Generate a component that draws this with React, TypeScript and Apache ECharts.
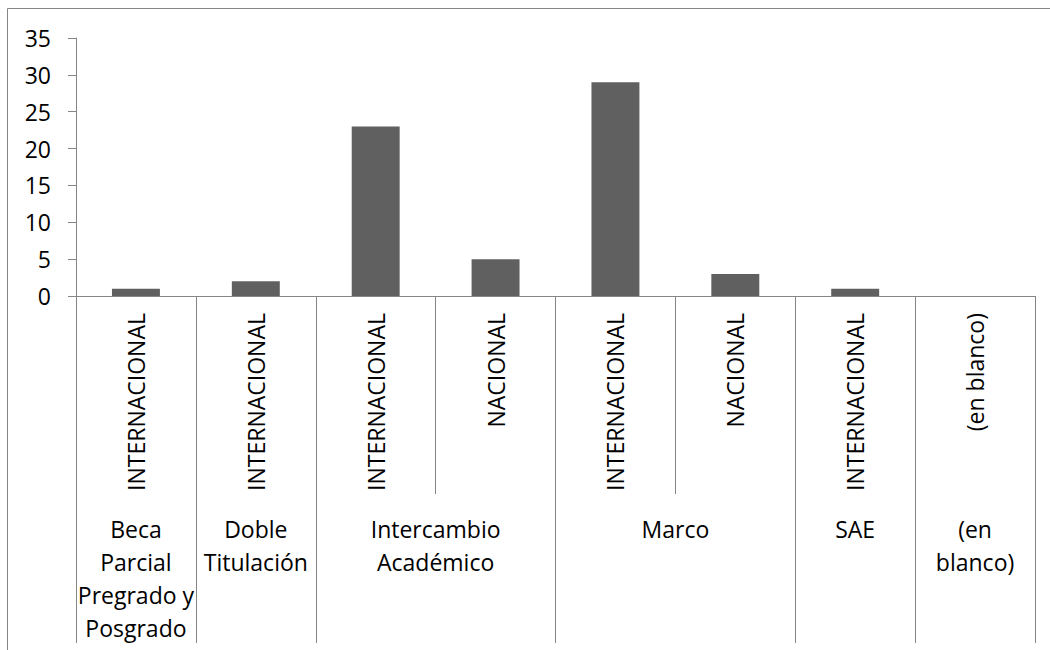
import React, { useEffect, useRef } from "react";
import * as echarts from "echarts";

const categories = [
  "INTERNACIONAL",
  "INTERNACIONAL",
  "INTERNACIONAL",
  "NACIONAL",
  "INTERNACIONAL",
  "NACIONAL",
  "INTERNACIONAL",
  "(en blanco)",
];
const values: (number | null)[] = [1, 2, 23, 5, 29, 3, 1, null];
const groups = [
  "Beca\nParcial\nPregrado y\nPosgrado",
  "Doble\nTitulación",
  "Intercambio\nAcadémico",
  "Marco",
  "SAE",
  "(en\nblanco)",
];
const groupSpans = [1, 1, 2, 2, 1, 1];
const yMin = 0;
const yMax = 35;
const yStep = 5;

export default function App() {
  const ref = useRef<HTMLDivElement>(null);
  useEffect(() => {
    if (!ref.current) return;
    const chart = echarts.init(ref.current, undefined, { renderer: "svg" });

    // half-step positions for the group axis
    const n = categories.length;
    const half: string[] = new Array(2 * n + 1).fill("");
    const boundaryIdx = new Set<number>([0]);
    let start = 0;
    groups.forEach((g, i) => {
      const span = groupSpans[i];
      half[2 * start + span] = g;
      start += span;
      boundaryIdx.add(2 * start);
    });
    const halfData = half.map((_v, i) => String(i));

    const font = "'Open Sans', sans-serif";
    const grey = "#868686";

    chart.setOption({
      animation: false,
      backgroundColor: "#ffffff",
      grid: { left: 76, right: 15, top: 38, bottom: 354, containLabel: false },
      graphic: [
        {
          type: "rect",
          shape: { x: 7.5, y: 8.5, width: 1200, height: 800 },
          style: { fill: "none", stroke: grey, lineWidth: 1 },
          silent: true,
        },
      ],
      xAxis: [
        {
          type: "category",
          data: categories,
          position: "bottom",
          axisLine: { show: true, lineStyle: { color: grey, width: 1 } },
          axisTick: { show: true, length: 198, lineStyle: { color: grey } },
          axisLabel: {
            rotate: 90,
            interval: 0,
            margin: 17,
            color: "#000",
            fontFamily: font,
            fontSize: 23,
          },
        },
        {
          type: "category",
          data: halfData,
          position: "bottom",
          boundaryGap: false,
          axisLine: { show: false },
          axisTick: {
            show: true,
            length: 347,
            interval: (index: number) => boundaryIdx.has(index),
            lineStyle: { color: grey },
          },
          axisLabel: {
            interval: 0,
            margin: 216,
            color: "#000",
            fontFamily: font,
            fontSize: 23,
            lineHeight: 33,
            align: "center",
            formatter: (_v: string, idx: number) => half[idx],
          },
        },
      ],
      yAxis: {
        type: "value",
        min: yMin,
        max: yMax,
        interval: yStep,
        axisLine: { show: true, lineStyle: { color: grey, width: 1 } },
        axisTick: { show: true, length: 8, lineStyle: { color: grey } },
        splitLine: { show: false },
        axisLabel: {
          margin: 25,
          color: "#000",
          fontFamily: font,
          fontSize: 23,
        },
      },
      series: [
        {
          type: "bar",
          xAxisIndex: 0,
          data: values,
          barWidth: "40%",
          itemStyle: { color: "#606060" },
        },
      ],
    });
    return () => chart.dispose();
  }, []);
  return (
    <div
      ref={ref}
      style={{ position: "absolute", left: 0, top: 0, width: 1050, height: 650 }}
    />
  );
}
